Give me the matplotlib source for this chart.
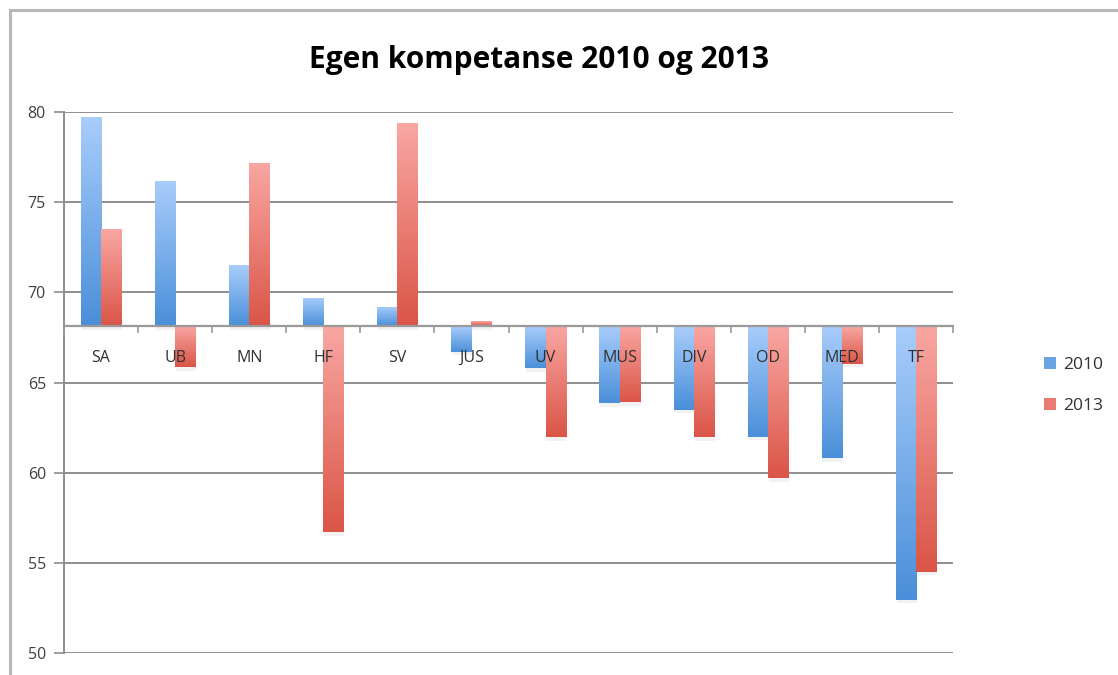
import numpy as np
import matplotlib
matplotlib.use("Agg")
import matplotlib.pyplot as plt
from matplotlib.patches import Rectangle
from matplotlib.colors import LinearSegmentedColormap

categories = ["SA", "UB", "MN", "HF", "SV", "JUS", "UV", "MUS", "DIV", "OD", "MED", "TF"]
v2010 = [79.75, 76.2, 71.5, 69.7, 69.2, 66.7, 65.8, 63.85, 63.5, 62.0, 60.8, 52.95]
v2013 = [73.5, 65.85, 77.2, 56.7, 79.4, 68.4, 61.95, 63.9, 61.95, 59.7, 66.05, 54.5]
series_labels = ["2010", "2013"]
baseline = 68.13
yticks = [50, 55, 60, 65, 70, 75, 80]
title = "Egen kompetanse 2010 og 2013"

plt.rcParams['font.family'] = ['Open Sans', 'DejaVu Sans']

fig = plt.figure(figsize=(11.18, 6.75), dpi=100)
fig.patch.set_facecolor("white")

# outer chart frame
fig.add_artist(Rectangle((10/1118, -0.1), 1.2, 1 - 10/675 + 0.1, transform=fig.transFigure,
                         fill=False, edgecolor="#b8b8b8", linewidth=2.2))

ax = fig.add_axes([64/1118, 1 - 652.7/675, (953 - 64)/1118, (652.7 - 112.3)/675])
ax.set_ylim(50, 80)
ax.set_xlim(-0.5, len(categories) - 0.5)

blue_cmap = LinearSegmentedColormap.from_list("b", ["#4a8fd9", "#a9cdfb"])
red_cmap = LinearSegmentedColormap.from_list("r", ["#da5547", "#f9a7a3"])

x = np.arange(len(categories))
w = 0.272
grad = np.linspace(0, 1, 256).reshape(-1, 1)
for vals, off, cmap in [(v2010, -w/2, blue_cmap), (v2013, w/2, red_cmap)]:
    heights = np.array(vals) - baseline
    bars = ax.bar(x + off, heights, width=w, bottom=baseline, color="none", edgecolor="none", zorder=2)
    for b in bars:
        x0, y0 = b.get_x(), b.get_y()
        x1, y1 = x0 + b.get_width(), y0 + b.get_height()
        lo, hi = min(y0, y1), max(y0, y1)
        # soft shadow
        ax.add_patch(Rectangle((x0 + 0.01, lo - 0.2), x1 - x0, hi - lo, facecolor="#000000",
                               alpha=0.05, edgecolor="none", zorder=1.8))
        im = ax.imshow(grad, cmap=cmap, aspect="auto", extent=(x0, x1, lo, hi), origin="lower",
                       zorder=2, interpolation="bilinear")
        im.set_clip_path(b)
ax.set_xlim(-0.5, len(categories) - 0.5)
ax.set_ylim(50, 80)

# grid
ax.set_yticks(yticks)
ax.yaxis.grid(True, color="#8e8e8e", linewidth=1.4)
ax.yaxis.set_zorder(0.5)
ax.tick_params(axis="y", length=7, width=1.2, color="#8e8e8e", labelsize=11.5, labelcolor="#404040", pad=6)

for s in ["top", "right"]:
    ax.spines[s].set_visible(False)
ax.spines["left"].set_color("#8e8e8e")
ax.spines["left"].set_linewidth(1.4)
ax.spines["bottom"].set_position(("data", baseline))
ax.spines["bottom"].set_color("#9a9a9a")
ax.spines["bottom"].set_linewidth(1.6)
ax.spines["bottom"].set_zorder(3)

ax.set_xticks(x)
ax.set_xticklabels(categories)
ax.set_xticks(np.arange(-0.5, len(categories)), minor=True)
ax.tick_params(axis="x", which="major", length=0, labelsize=11.5, labelcolor="#303030", pad=17)
ax.tick_params(axis="x", which="minor", length=5, width=1.2, color="#9a9a9a", direction="out")
ax.xaxis.set_zorder(5)

fig.text(539/1118, 1 - 60/675, title, ha="center", va="center", fontsize=21.5, fontweight="bold", color="#000000")

handles = [Rectangle((0, 0), 1, 1, facecolor="#6aa4e4"), Rectangle((0, 0), 1, 1, facecolor="#ec7a74")]
fig.legend(handles, series_labels, loc="upper left", bbox_to_anchor=(1028/1118, 1 - 341/675),
           frameon=False, fontsize=12.5, handlelength=0.7, handleheight=0.7, handletextpad=0.4,
           labelspacing=1.45, labelcolor="#303030")

fig.savefig("out.png", dpi=100, facecolor="white")
